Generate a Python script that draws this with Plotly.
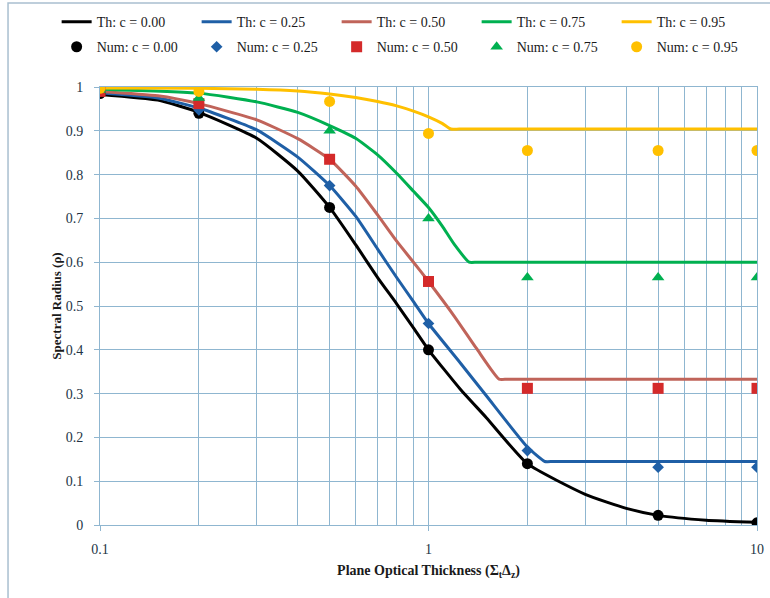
import plotly.graph_objects as go

# ---- theoretical spectral radius curves (Th) ----
th0_x = [0.1, 0.15, 0.2, 0.3, 0.4, 0.5, 0.6, 0.7, 0.8, 0.9, 1.0, 1.25, 1.5, 2.0, 3.0, 4.0, 5.0, 7.0, 10.0]
th0_y = [0.983, 0.970, 0.942, 0.883, 0.808, 0.725, 0.640, 0.565, 0.505, 0.450, 0.400, 0.310, 0.245, 0.140, 0.070, 0.038, 0.022, 0.011, 0.006]

th25_x = [0.1, 0.15, 0.2, 0.3, 0.4, 0.5, 0.6, 0.7, 0.8, 0.9, 1.0, 1.25, 1.5, 2.0, 2.26, 2.4, 5.0, 10.0]
th25_y = [0.987, 0.975, 0.952, 0.902, 0.840, 0.775, 0.705, 0.630, 0.565, 0.510, 0.460, 0.370, 0.295, 0.178, 0.145, 0.145, 0.145, 0.145]

th50_x = [0.1, 0.15, 0.2, 0.3, 0.4, 0.5, 0.6, 0.7, 0.8, 0.9, 1.0, 1.2, 1.4, 1.64, 1.74, 5.0, 10.0]
th50_y = [0.990, 0.980, 0.962, 0.925, 0.882, 0.835, 0.774, 0.708, 0.648, 0.600, 0.556, 0.476, 0.403, 0.333, 0.333, 0.333, 0.333]

th75_x = [0.1, 0.2, 0.3, 0.4, 0.5, 0.6, 0.7, 0.8, 0.9, 1.0, 1.1, 1.2, 1.33, 1.41, 5.0, 10.0]
th75_y = [0.995, 0.986, 0.966, 0.942, 0.912, 0.883, 0.845, 0.803, 0.762, 0.725, 0.683, 0.640, 0.600, 0.600, 0.600, 0.600]

th95_x = [0.1, 0.2, 0.3, 0.4, 0.5, 0.6, 0.7, 0.8, 0.9, 1.0, 1.1, 1.17, 1.24, 5.0, 10.0]
th95_y = [0.998, 0.997, 0.995, 0.991, 0.984, 0.976, 0.967, 0.957, 0.945, 0.932, 0.917, 0.904, 0.904, 0.904, 0.904]

# ---- numerical results (Num) ----
num_x = [0.1, 0.2, 0.5, 1.0, 2.0, 5.0, 10.0]
num0_y = [0.985, 0.940, 0.725, 0.400, 0.140, 0.022, 0.005]
num25_y = [0.990, 0.948, 0.775, 0.460, 0.170, 0.132, 0.132]
num50_y = [0.990, 0.962, 0.835, 0.556, 0.312, 0.312, 0.312]
num75_y = [0.993, 0.975, 0.900, 0.700, 0.565, 0.565, 0.565]
num95_y = [0.997, 0.990, 0.967, 0.894, 0.855, 0.855, 0.855]

th_names = ["Th: c = 0.00", "Th: c = 0.25", "Th: c = 0.50", "Th: c = 0.75", "Th: c = 0.95"]
num_names = ["Num: c = 0.00", "Num: c = 0.25", "Num: c = 0.50", "Num: c = 0.75", "Num: c = 0.95"]

x_ticks = [0.1, 1, 10]
x_tick_labels = ["0.1", "1", "10"]

line_colors = ["#000000", "#1f5fa6", "#c0645a", "#00b050", "#ffc000"]
marker_colors = ["#000000", "#1f5fa6", "#d42a2a", "#00b050", "#ffc000"]
marker_symbols = ["circle", "diamond", "square", "triangle-up", "circle"]
marker_sizes = [11, 9, 11, 11, 11]

FONT = "Liberation Serif"
GRID = "#8fb6d0"

fig = go.Figure()

th_series = [(th0_x, th0_y), (th25_x, th25_y), (th50_x, th50_y), (th75_x, th75_y), (th95_x, th95_y)]
for (xs, ys), name, col in zip(th_series, th_names, line_colors):
    fig.add_trace(go.Scatter(
        x=xs, y=ys, name=name, mode="lines",
        line=dict(color=col, width=3, shape="spline", smoothing=0.5),
        legend="legend",
    ))

num_series = [num0_y, num25_y, num50_y, num75_y, num95_y]
for ys, name, col, sym, sz in zip(num_series, num_names, marker_colors, marker_symbols, marker_sizes):
    fig.add_trace(go.Scatter(
        x=num_x, y=ys, name=name, mode="markers",
        marker=dict(color=col, symbol=sym, size=sz, line=dict(width=0)),
        legend="legend2",
    ))

legend_common = dict(
    orientation="h",
    xanchor="left",
    yanchor="middle",
    bgcolor="rgba(0,0,0,0)",
    font=dict(family=FONT, size=14, color="#1a1a1a"),
    entrywidth=95,
    entrywidthmode="pixels",
    itemwidth=30,
)

fig.update_layout(
    width=770,
    height=598,
    margin=dict(l=100, r=13, t=87, b=73, autoexpand=False),
    paper_bgcolor="white",
    plot_bgcolor="white",
    font=dict(family=FONT, size=14, color="#233445"),
    legend=dict(x=-0.066, y=1.148, **legend_common),
    legend2=dict(x=-0.066, y=1.091, **legend_common),
    xaxis=dict(
        type="log",
        range=[-1, 1],
        tickvals=x_ticks,
        ticktext=x_tick_labels,
        showgrid=True,
        gridcolor=GRID,
        gridwidth=1,
        minor=dict(dtick="D1", showgrid=True, gridcolor=GRID, gridwidth=1),
        showline=True,
        linecolor=GRID,
        mirror=True,
        ticks="outside",
        ticklen=5,
        tickcolor=GRID,
        ticklabelstandoff=6,
        tickfont=dict(family=FONT, size=14, color="#233445"),
        title=dict(
            text="Plane Optical Thickness (Σ<sub>t</sub>Δ<sub>z</sub>)",
            font=dict(family=FONT, size=14, color="#1a1a1a", weight="bold"),
            standoff=9,
        ),
    ),
    yaxis=dict(
        range=[0, 1],
        dtick=0.1,
        showgrid=True,
        gridcolor=GRID,
        gridwidth=1,
        zeroline=False,
        showline=True,
        linecolor=GRID,
        mirror=True,
        ticks="outside",
        ticklen=5,
        tickcolor=GRID,
        ticklabelstandoff=8,
        tickfont=dict(family=FONT, size=14, color="#233445"),
        title=dict(
            text="Spectral Radius (ρ)",
            font=dict(family=FONT, size=13, color="#1a1a1a", weight="bold"),
            standoff=1,
        ),
    ),
    shapes=[
        dict(
            type="rect", xref="paper", yref="paper",
            x0=-0.14, x1=1.2, y0=-0.5, y1=1.192,
            line=dict(color="#a9bfcf", width=1.5),
            fillcolor="rgba(0,0,0,0)",
            layer="below",
        )
    ],
)

fig.write_html("out.html")
